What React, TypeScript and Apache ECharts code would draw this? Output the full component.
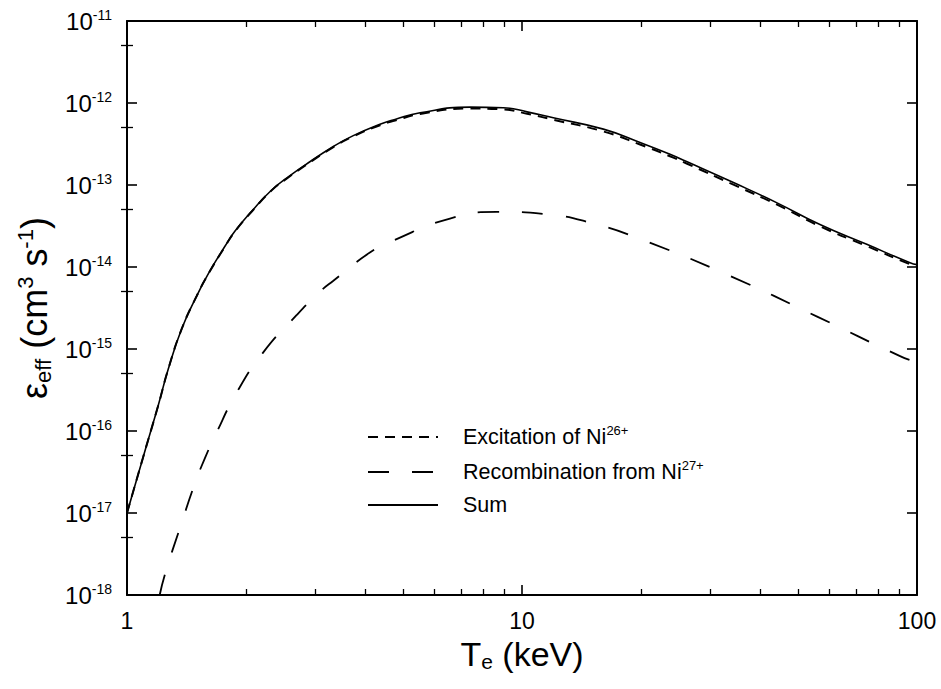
import React, { useEffect, useRef } from 'react';
import * as echarts from 'echarts';

// ---- data ----
const sumT = [1.0, 1.10, 1.20, 1.272, 1.375, 1.5, 1.607, 1.77, 1.877, 2.07, 2.324, 2.54, 2.822, 3.33, 3.74, 4.37, 4.77, 5.52, 7.38, 8.97, 10.3, 12.0, 16.07, 19.9, 23.7, 26.1, 34.3, 44.1, 56.8, 74.6, 96, 100];
const sumV = [1.0e-17, 4.9e-17, 2.06e-16, 5.7e-16, 1.75e-15, 4.4e-15, 8.3e-15, 1.79e-14, 2.75e-14, 4.8e-14, 8.7e-14, 1.22e-13, 1.75e-13, 2.95e-13, 4.0e-13, 5.5e-13, 6.3e-13, 7.6e-13, 8.9e-13, 8.75e-13, 7.8e-13, 6.6e-13, 4.8e-13, 3.3e-13, 2.37e-13, 1.93e-13, 1.07e-13, 6.1e-14, 3.3e-14, 1.89e-14, 1.13e-14, 1.07e-14];

const excT = [1.0, 1.10, 1.20, 1.272, 1.375, 1.5, 1.607, 1.77, 1.877, 2.07, 2.324, 2.54, 2.822, 3.33, 3.74, 4.37, 4.77, 5.52, 7.38, 8.97, 10.3, 12.0, 16.07, 19.9, 23.7, 26.1, 34.3, 44.1, 56.8, 74.6, 96, 100];
const excV = [1.0e-17, 4.9e-17, 2.06e-16, 5.7e-16, 1.75e-15, 4.4e-15, 8.25e-15, 1.77e-14, 2.72e-14, 4.75e-14, 8.6e-14, 1.2e-13, 1.72e-13, 2.9e-13, 3.92e-13, 5.35e-13, 6.1e-13, 7.35e-13, 8.55e-13, 8.35e-13, 7.4e-13, 6.25e-13, 4.5e-13, 3.12e-13, 2.24e-13, 1.83e-13, 1.01e-13, 5.8e-14, 3.14e-14, 1.8e-14, 1.08e-14, 1.02e-14];

const recT = [1.21, 1.248, 1.362, 1.486, 1.576, 1.67, 1.896, 2.213, 2.69, 3.08, 3.33, 4.12, 4.72, 6.57, 8.63, 11.55, 15.14, 19.9, 33.6, 55.7, 90.6, 100];
const recV = [1.0e-18, 1.8e-18, 6.6e-18, 2.3e-17, 4.7e-17, 8.7e-17, 2.95e-16, 9.1e-16, 2.6e-15, 5.0e-15, 6.8e-15, 1.5e-14, 2.1e-14, 3.9e-14, 4.7e-14, 4.4e-14, 3.4e-14, 2.2e-14, 7.8e-15, 2.5e-15, 8.2e-16, 6.9e-16];

const seriesNames = ['Excitation of Ni26+', 'Recombination from Ni27+', 'Sum'];
const legendLabels = ['{n|Excitation of Ni}{sup|26+}', '{n|Recombination from Ni}{sup|27+}', '{n|Sum}'];

const xRange = [1, 100];
const yRange = [1e-18, 1e-11];
const xMinorTicks = [2, 3, 4, 5, 6, 7, 8, 9, 20, 30, 40, 50, 60, 70, 80, 90];
const yMinorTicks = [5e-18, 5e-17, 5e-16, 5e-15, 5e-14, 5e-13, 5e-12];

const FONT = 'Liberation Sans, Arial, Helvetica, sans-serif';

const pairs = (xs: number[], ys: number[]) => xs.map((x, i) => [x, ys[i]]);

export default function App() {
  const ref = useRef<HTMLDivElement>(null);
  useEffect(() => {
    document.body.style.margin = '0';
    const chart = echarts.init(ref.current!, null, { renderer: 'svg' });
    const lineCol = '#000';
    const majorTick = { show: true, inside: true, length: 10, lineStyle: { color: lineCol, width: 1.6 } };
    const minorTick = { show: true, inside: true, length: 6, lineStyle: { color: lineCol, width: 1.3 } };
    const axLine = { show: true, onZero: false, lineStyle: { color: lineCol, width: 2 } };
    const noLine = { show: false };

    const logX = (pos: string, extra: any) => ({
      type: 'log', logBase: 10, min: xRange[0], max: xRange[1], position: pos, gridIndex: 0,
      splitLine: { show: false }, axisLine: axLine, axisTick: majorTick, axisLabel: { show: false }, ...extra,
    });
    const logY = (pos: string, extra: any) => ({
      type: 'log', logBase: 10, min: yRange[0], max: yRange[1], position: pos, gridIndex: 0,
      splitLine: { show: false }, axisLine: axLine, axisTick: majorTick, axisLabel: { show: false }, ...extra,
    });
    const minorX = (pos: string) => ({
      type: 'value', min: Math.log10(xRange[0]), max: Math.log10(xRange[1]), position: pos,
      splitLine: { show: false }, axisLine: noLine, axisLabel: { show: false },
      axisTick: { ...minorTick, customValues: xMinorTicks.map((v) => Math.log10(v)) },
    });
    const minorY = (pos: string) => ({
      type: 'value', min: Math.log10(yRange[0]), max: Math.log10(yRange[1]), position: pos,
      splitLine: { show: false }, axisLine: noLine, axisLabel: { show: false },
      axisTick: { ...minorTick, customValues: yMinorTicks.map((v) => Math.log10(v)) },
    });

    const line = (name: string, xs: number[], ys: number[], width: number, type: any, z: number) => ({
      name, type: 'line', xAxisIndex: 0, yAxisIndex: 0,
      data: pairs(xs, ys), symbol: 'none', showSymbol: false, smooth: true,
      itemStyle: { color: '#000' },
      lineStyle: { color: '#000', width, type }, z,
    });

    chart.setOption({
      animation: false,
      backgroundColor: '#fff',
      textStyle: { fontFamily: FONT },
      grid: { left: 127, right: 24, top: 21, bottom: 94, containLabel: false },
      xAxis: [
        logX('bottom', {
          axisLabel: { show: true, color: '#000', fontSize: 23, fontFamily: FONT, margin: 14, showMinLabel: true, showMaxLabel: true },
          name: '{b|T}{sub|e}{b| (keV)}',
          nameLocation: 'middle',
          nameGap: 38,
          nameTextStyle: {
            color: '#000', fontFamily: FONT, fontSize: 34,
            rich: {
              b: { fontSize: 34, lineHeight: 36, fontFamily: FONT, color: '#000' },
              sub: { fontSize: 21, lineHeight: 21, verticalAlign: 'bottom', fontFamily: FONT, color: '#000' },
            },
          },
        }),
        minorX('bottom'),
        logX('top', {}),
        minorX('top'),
      ],
      yAxis: [
        logY('left', {
          axisLabel: {
            show: true, margin: 15, color: '#000', fontFamily: FONT,
            formatter: (v: number) => `{b|10}{s|${Math.round(Math.log10(v))}}`,
            rich: {
              b: { fontSize: 24, lineHeight: 27, fontFamily: FONT, color: '#000' },
              s: { fontSize: 14, lineHeight: 14, verticalAlign: 'top', fontFamily: FONT, color: '#000' },
            },
          },
          name: '{b|ε}{sub|eff}{b| (cm}{sup|3}{b| s}{sup|-1}{b|)}',
          nameLocation: 'middle',
          nameRotate: 90,
          nameGap: 68,
          nameTextStyle: {
            color: '#000', fontFamily: FONT, fontSize: 36,
            rich: {
              b: { fontSize: 36, lineHeight: 40, fontFamily: FONT, color: '#000' },
              sub: { fontSize: 22, lineHeight: 22, verticalAlign: 'bottom', fontFamily: FONT, color: '#000' },
              sup: { fontSize: 22, lineHeight: 22, verticalAlign: 'top', fontFamily: FONT, color: '#000' },
            },
          },
        }),
        minorY('left'),
        logY('right', {}),
        minorY('right'),
      ],
      legend: {
        orient: 'vertical',
        left: 362,
        top: 419,
        itemWidth: 70,
        itemHeight: 14,
        itemGap: 11,
        selectedMode: false,
        data: seriesNames,
        itemStyle: { opacity: 0 },
        formatter: (name: string) => legendLabels[seriesNames.indexOf(name)],
        textStyle: {
          color: '#000', fontFamily: FONT, fontSize: 21.5, padding: [0, 0, 0, 20],
          rich: {
            n: { fontSize: 21.5, lineHeight: 26, fontFamily: FONT, color: '#000' },
            sup: { fontSize: 13, lineHeight: 13, verticalAlign: 'top', fontFamily: FONT, color: '#000' },
          },
        },
      },
      series: [
        line(seriesNames[2], sumT, sumV, 1.6, 'solid', 3),
        line(seriesNames[0], excT, excV, 2, [10, 7], 4),
        line(seriesNames[1], recT, recV, 1.8, [21, 23], 4),
      ],
    });
    return () => chart.dispose();
  }, []);
  return <div ref={ref} style={{ position: 'absolute', left: 0, top: 0, width: 941, height: 689 }} />;
}
